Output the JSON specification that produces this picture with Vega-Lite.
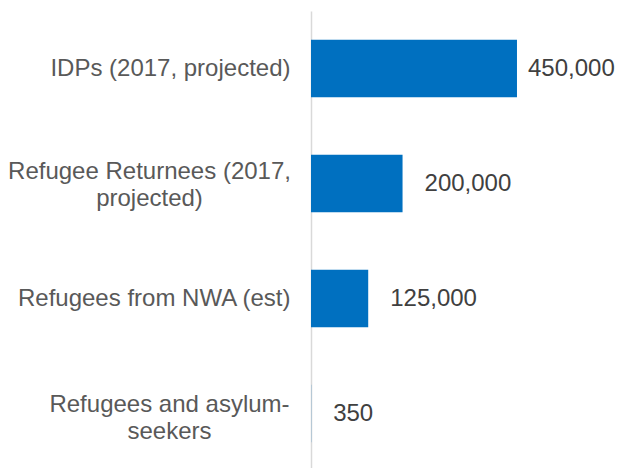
{
  "$schema": "https://vega.github.io/schema/vega-lite/v6.json",
  "autosize": "none",
  "width": 306,
  "height": 460,
  "padding": {"left": 311, "top": 11, "right": 0, "bottom": 0},
  "background": "white",
  "config": {"view": {"stroke": null}, "font": "Liberation Sans"},
  "data": {
    "values": [
      {"category": "IDPs (2017, projected)", "value": 450000},
      {"category": "Refugee Returnees (2017, projected)", "value": 200000},
      {"category": "Refugees from NWA (est)", "value": 125000},
      {"category": "Refugees and asylum-seekers", "value": 350}
    ]
  },
  "encoding": {
    "y": {
      "field": "category",
      "type": "nominal",
      "sort": null,
      "scale": {"paddingInner": 0.5, "paddingOuter": 0.25},
      "axis": {
        "title": null,
        "ticks": false,
        "domainColor": "#D9D9D9",
        "domainWidth": 1.5,
        "labelFont": "Liberation Sans",
        "labelFontSize": 24,
        "labelColor": "#595959",
        "labelLineHeight": 27.5,
        "labelLimit": 400,
        "labelBaseline": "middle",
        "labelExpr": "datum.value == 'Refugee Returnees (2017, projected)' ? ['Refugee Returnees (2017,', 'projected)'] : datum.value == 'Refugees and asylum-seekers' ? ['Refugees and asylum-', 'seekers'] : datum.value",
        "labelAlign": {
          "condition": {"test": "datum.value == 'Refugee Returnees (2017, projected)' || datum.value == 'Refugees and asylum-seekers'", "value": "center"},
          "value": "right"
        },
        "labelPadding": {
          "condition": [
            {"test": "datum.value == 'Refugee Returnees (2017, projected)'", "value": 162},
            {"test": "datum.value == 'Refugees and asylum-seekers'", "value": 142}
          ],
          "value": 21
        },
        "labelOffset": {
          "condition": [
            {"test": "datum.value == 'Refugee Returnees (2017, projected)'", "value": -12},
            {"test": "datum.value == 'Refugees and asylum-seekers'", "value": -9}
          ],
          "value": 0
        }
      }
    },
    "x": {
      "field": "value",
      "type": "quantitative",
      "scale": {"domain": [0, 668500], "nice": false},
      "axis": null
    }
  },
  "layer": [
    {"mark": {"type": "bar", "color": "#0070C0"}},
    {
      "transform": [{"filter": "datum.value >= 400000"}],
      "mark": {"type": "text", "align": "left", "baseline": "middle", "dx": 11, "fontSize": 24, "color": "#404040", "font": "Liberation Sans"},
      "encoding": {"text": {"field": "value", "type": "quantitative", "format": ","}}
    },
    {
      "transform": [{"filter": "datum.value < 400000"}],
      "mark": {"type": "text", "align": "left", "baseline": "middle", "dx": 22, "fontSize": 24, "color": "#404040", "font": "Liberation Sans"},
      "encoding": {"text": {"field": "value", "type": "quantitative", "format": ","}}
    }
  ]
}
